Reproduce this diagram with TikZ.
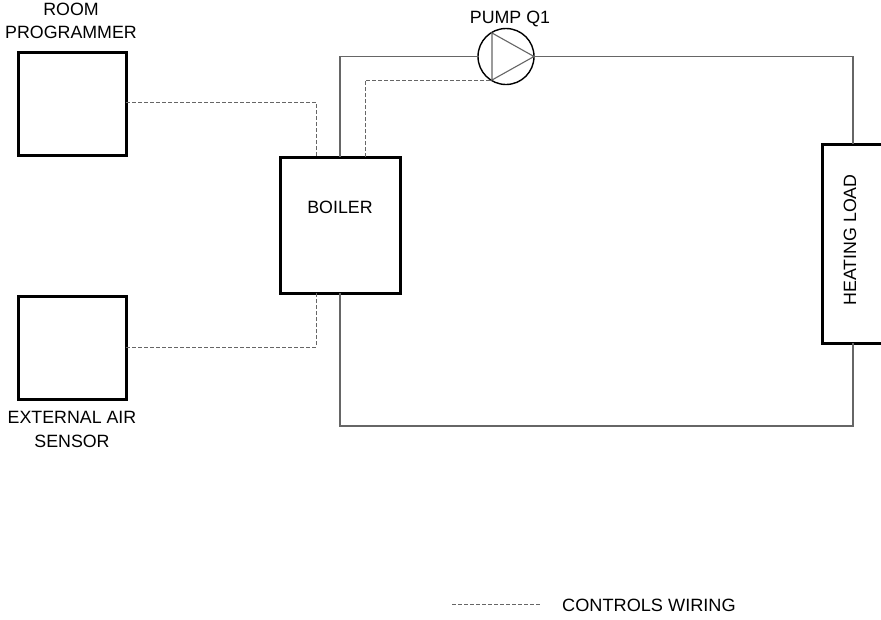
\documentclass[tikz,border=0pt]{standalone}
\usepackage{fontspec}
\setmainfont{Liberation Sans}
\tikzset{
  box/.style={draw=black,line width=3pt,fill=none,inner sep=0pt,outer sep=0pt,anchor=north west,rectangle},
  pipe/.style={draw=black!60,line width=1.1pt},
  wire/.style={draw=black!60,line width=0.9pt,dash pattern=on 3.6pt off 2.4pt},
  lbl/.style={font=\fontsize{17.8}{20}\selectfont,inner sep=0pt,text=black},
  pumpc/.style={circle,draw=black,line width=1.4pt,minimum size=56pt,inner sep=0pt,outer sep=0pt}
}
\begin{document}
\begin{tikzpicture}[x=1pt,y=-1pt]
\clip (0,0) rectangle (881,619);
\fill[white] (0,0) rectangle (881,619);
\node[box,minimum width=108pt,minimum height=103pt] (room) at (18,52) {};
\node[box,minimum width=108pt,minimum height=103pt] (sensor) at (18,296) {};
\node[box,minimum width=120pt,minimum height=136pt] (boiler) at (280,157) {};
\node[box,minimum width=70pt,minimum height=199pt] (load) at (822,144) {};
\node[pumpc] (pump) at (506,56.5) {};
\coordinate (t1) at (492,33);
\coordinate (t2) at (492,80);
\coordinate (t3) at (pump.east);
\draw[pipe] (t1) -- (t2) -- (t3) -- cycle;
% pipework
\coordinate (bt) at (340,157);
\coordinate (bb) at (340,293);
\coordinate (lt) at (853,144);
\coordinate (lb) at (853,343);
\draw[pipe] (bt) |- (pump.west);
\draw[pipe] (pump.east) -| (lt);
\draw[pipe] (lb) -- (853,426) -| (bb);
% wiring
\coordinate (rw) at (316,157);
\coordinate (sw) at (316,293);
\coordinate (pw) at (365,157);
\draw[wire] (room.east |- 0,102) -| (rw);
\draw[wire] (sensor.east |- 0,347) -| (sw);
\draw[wire] (pw) |- (t2);
\coordinate (la) at (452,604.5);
\coordinate (lz) at (540,604.5);
\draw[wire] (la) -- (lz);
% labels
\node[lbl] (t-room) at (71,9) {ROOM};
\node[lbl] (t-prog) at (71,32) {PROGRAMMER};
\node[lbl] (t-pump) at (510,19) {PUMP Q1};
\node[lbl] (t-boiler) at (340,207) {BOILER};
\node[lbl] (t-ext) at (72,417) {EXTERNAL AIR};
\node[lbl] (t-sens) at (72,441) {SENSOR};
\node[lbl,rotate=90] (t-load) at (850,240) {HEATING LOAD};
\node[lbl,anchor=west,xscale=1.02] (t-leg) at (562,605) {CONTROLS WIRING};
\end{tikzpicture}
\end{document}
